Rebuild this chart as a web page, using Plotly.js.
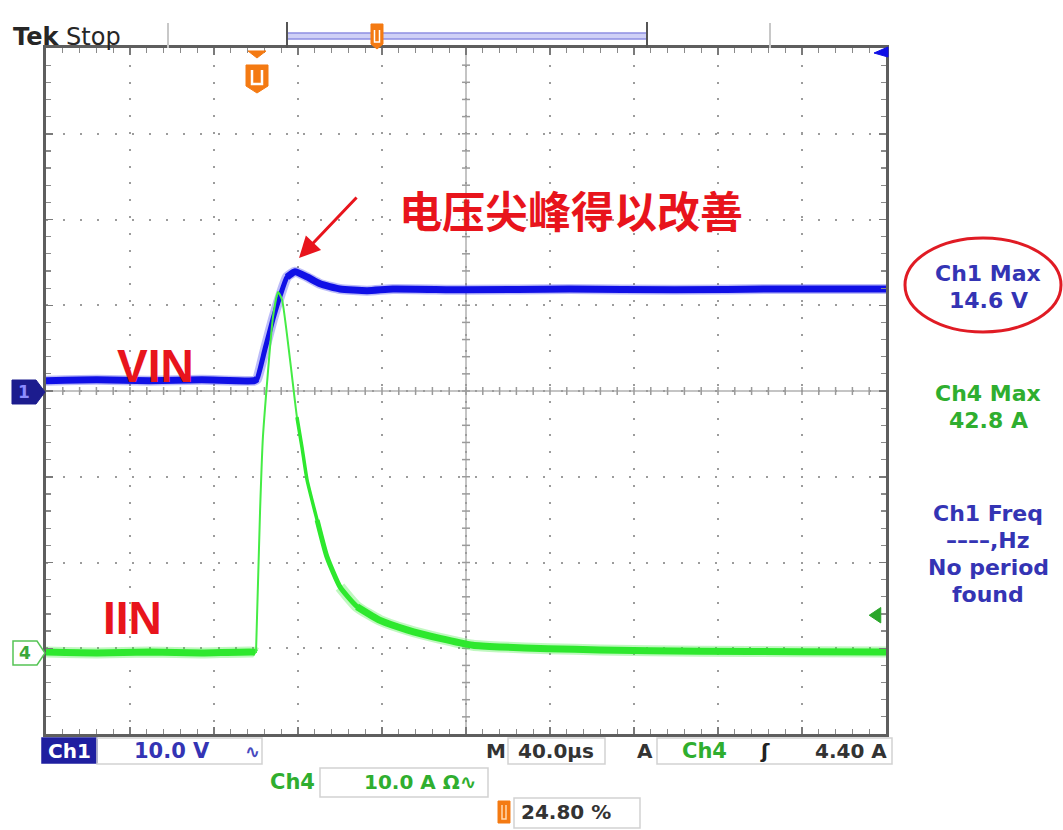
<!DOCTYPE html>
<html>
<head>
<meta charset="utf-8">
<script src="https://cdn.plot.ly/plotly-3.0.1.min.js"></script>
<style>
html,body{margin:0;padding:0;background:#ffffff;}
#chart{width:1063px;height:830px;}
</style>
</head>
<body>
<div id="chart"></div>
<script>
// ---------------- DATA (read from the scope capture) ----------------
// Ch1 = VIN (10.0 V/div), Ch4 = IIN (10.0 A/div), time base 40.0 us/div, trigger at 24.80 %
const ch1TimeUs = [-99.2, -75, -50, -25, 0, 1.3, 5.1, 8.9, 12.3, 15.6, 19.4, 25.1, 31.3, 40.8, 53.7, 66, 100, 150, 200, 250, 300.8];
const ch1Volts  = [1.2, 1.3, 1.2, 1.3, 1.2, 1.4, 4.9, 8.4, 11.1, 13.3, 13.9, 13.3, 12.5, 11.9, 11.7, 11.9, 11.8, 11.9, 11.8, 11.9, 11.9];

const ch4TimeUs = [-99.2, -75, -50, -25, 0, 0.8, 2.7, 4.1, 8.9, 11.3, 13.2, 17.0, 20.3, 22.7, 25.1, 29.9, 34.6, 40.8, 48.9, 59.9, 72.7, 88.4, 104.1, 117, 140, 164.6, 212, 260, 300.8];
const ch4Amps   = [0.1, 0, 0.1, 0, 0.1, 0, 16.3, 25.2, 39.2, 42.1, 41.2, 34.2, 27.5, 24.0, 20.2, 15.5, 11.2, 7.7, 5.4, 3.8, 2.7, 1.7, 0.9, 0.7, 0.5, 0.35, 0.2, 0.15, 0.1];

const ch4TriggerLevelA = 4.40;

// texts
const headerLabel = ['Tek', 'Stop'];
const seriesLabels = ['VIN', 'IIN'];
const calloutText = '电压尖峰得以改善';
const ch1MaxLines = ['Ch1 Max', '14.6 V'];
const ch4MaxLines = ['Ch4 Max', '42.8 A'];
const ch1FreqLines = ['Ch1 Freq', '––––,Hz', 'No period', 'found'];
const bottomTexts = {ch1: 'Ch1', ch1Scale: '10.0 V', time: '40.0µs', ch4: 'Ch4', ch4Scale: '10.0 A Ω∿', trigLevel: '4.40 A', trigPos: '24.80 %'};

// ---------------- GEOMETRY ----------------
const W = 1063, H = 830;
const L = 46, R = 886, T = 48, B = 734;
const P = x => (x - L) / (R - L);
const Q = y => (B - y) / (B - T);
function pth(pts, close) {
  return pts.map((p, i) => (i ? 'L' : 'M') + P(p[0]).toFixed(5) + ',' + Q(p[1]).toFixed(5)).join(' ') + (close ? ' Z' : '');
}

const BLUE = '#1010e6', GREEN = '#2ee82e';
const TXTBLUE = '#3434b4', TXTGREEN = '#2fae2f';
const RED = '#e8141c';
const MONO = 'DejaVu Sans';

function seg(xs, ys, i0, i1, color, width, axis, opacity) {
  return {
    type: 'scatter', mode: 'lines',
    x: xs.slice(i0, i1 + 1), y: ys.slice(i0, i1 + 1),
    yaxis: axis, opacity: opacity,
    line: {color: color, width: width, shape: 'spline', smoothing: 0.5},
    hoverinfo: 'skip', showlegend: false
  };
}
const n1 = ch1TimeUs.length - 1, n4 = ch4TimeUs.length - 1;
const traces = [
  // Ch4 halo + core
  seg(ch4TimeUs, ch4Amps, 0, 5, GREEN, 11, 'y2', 0.3),
  seg(ch4TimeUs, ch4Amps, 17, n4, GREEN, 11, 'y2', 0.3),
  seg(ch4TimeUs, ch4Amps, 0, 5, GREEN, 7, 'y2', 1),
  seg(ch4TimeUs, ch4Amps, 5, n4, '#45ec45', 2, 'y2', 1),
  seg(ch4TimeUs, ch4Amps, 12, n4, GREEN, 3.5, 'y2', 1),
  seg(ch4TimeUs, ch4Amps, 15, n4, GREEN, 5, 'y2', 1),
  seg(ch4TimeUs, ch4Amps, 18, n4, GREEN, 7, 'y2', 1),
  // Ch1 halo + core
  seg(ch1TimeUs, ch1Volts, 0, n1, BLUE, 10, 'y', 0.28),
  seg(ch1TimeUs, ch1Volts, 0, n1, BLUE, 5, 'y', 1),
  seg(ch1TimeUs, ch1Volts, 0, 5, BLUE, 7, 'y', 1),
  seg(ch1TimeUs, ch1Volts, 9, n1, BLUE, 7, 'y', 1)
];

// ---------------- SHAPES ----------------
const shapes = [];
// centre crosshair
shapes.push({type: 'line', xref: 'paper', yref: 'paper', x0: 0.5, x1: 0.5, y0: 0, y1: 1, line: {color: '#c4c4c4', width: 2}, layer: 'below'});
shapes.push({type: 'line', xref: 'paper', yref: 'paper', x0: 0, x1: 1, y0: 0.5, y1: 0.5, line: {color: '#c4c4c4', width: 2}, layer: 'below'});
const hx = 4 / (R - L), hy = 4 / (B - T);
for (let i = 1; i < 50; i++) {
  shapes.push({type: 'line', xref: 'paper', yref: 'paper', x0: i / 50, x1: i / 50, y0: 0.5 - hy, y1: 0.5 + hy, line: {color: '#9a9a9a', width: 1.5}, layer: 'below'});
}
for (let j = 1; j < 40; j++) {
  shapes.push({type: 'line', xref: 'paper', yref: 'paper', x0: 0.5 - hx, x1: 0.5 + hx, y0: j / 40, y1: j / 40, line: {color: '#9a9a9a', width: 1.5}, layer: 'below'});
}
// top record bar
shapes.push({type: 'line', xref: 'paper', yref: 'paper', x0: P(168), x1: P(168), y0: Q(23), y1: Q(48), line: {color: '#c8c8c8', width: 2}});
shapes.push({type: 'line', xref: 'paper', yref: 'paper', x0: P(770), x1: P(770), y0: Q(23), y1: Q(48), line: {color: '#c8c8c8', width: 2}});
shapes.push({type: 'rect', xref: 'paper', yref: 'paper', x0: P(287), x1: P(647), y0: Q(39), y1: Q(33), fillcolor: '#cfd0f6', line: {color: '#8e8ee2', width: 1.5}});
shapes.push({type: 'line', xref: 'paper', yref: 'paper', x0: P(287), x1: P(287), y0: Q(22), y1: Q(48), line: {color: '#555', width: 2}});
shapes.push({type: 'line', xref: 'paper', yref: 'paper', x0: P(647), x1: P(647), y0: Q(22), y1: Q(48), line: {color: '#555', width: 2}});
// orange markers
const ORANGE = '#f47a12';
shapes.push({type: 'path', xref: 'paper', yref: 'paper', path: pth([[371, 24], [383, 24], [383, 44], [377, 49], [371, 44]], true), fillcolor: ORANGE, line: {color: ORANGE, width: 1}});
shapes.push({type: 'path', xref: 'paper', yref: 'paper', path: pth([[374.5, 30], [374.5, 42], [379.5, 42], [379.5, 30]], false), line: {color: '#ffffff', width: 1.5}});
shapes.push({type: 'path', xref: 'paper', yref: 'paper', path: pth([[248, 51], [266, 51], [257, 58]], true), fillcolor: ORANGE, line: {color: ORANGE, width: 1}});
shapes.push({type: 'path', xref: 'paper', yref: 'paper', path: pth([[246, 65], [268, 65], [268, 86], [257, 93], [246, 86]], true), fillcolor: ORANGE, line: {color: ORANGE, width: 1}});
shapes.push({type: 'path', xref: 'paper', yref: 'paper', path: pth([[252, 70], [252, 84], [262, 84], [262, 70]], false), line: {color: '#ffffff', width: 2.5}});
shapes.push({type: 'path', xref: 'paper', yref: 'paper', path: pth([[498, 801], [510, 801], [510, 823], [498, 823]], true), fillcolor: ORANGE, line: {color: ORANGE, width: 1}});
shapes.push({type: 'path', xref: 'paper', yref: 'paper', path: pth([[502, 805], [502, 819], [506, 819], [506, 805]], false), line: {color: '#ffd9b0', width: 1.5}});
// channel ground markers
shapes.push({type: 'path', xref: 'paper', yref: 'paper', path: pth([[12, 380], [36, 380], [45, 392], [36, 404], [12, 404]], true), fillcolor: '#1c1c8e', line: {color: '#1c1c8e', width: 1}});
shapes.push({type: 'path', xref: 'paper', yref: 'paper', path: pth([[13, 641], [37, 641], [45, 653], [37, 665], [13, 665]], true), fillcolor: '#ffffff', line: {color: '#55c455', width: 1.5}});
// off-screen indicator (top-right) and Ch4 trigger level arrow
shapes.push({type: 'path', xref: 'paper', yref: 'paper', path: pth([[874, 53], [888, 47], [888, 57]], true), fillcolor: BLUE, line: {color: BLUE, width: 1}});
shapes.push({type: 'path', xref: 'x', yref: 'y2', path: 'M' + (300.8 - 8.0) + ',' + ch4TriggerLevelA + ' L' + (300.8 - 2.5) + ',' + (ch4TriggerLevelA + 0.9) + ' L' + (300.8 - 2.5) + ',' + (ch4TriggerLevelA - 0.9) + ' Z', fillcolor: '#2aa62a', line: {color: '#2aa62a', width: 1}});
// red ellipse
shapes.push({type: 'circle', xref: 'paper', yref: 'paper', x0: P(905), x1: P(1061), y0: Q(332), y1: Q(238), line: {color: '#e01b24', width: 3}});
// bottom readout boxes
function box(x0, y0, x1, y1, fill, lc) {
  shapes.push({type: 'rect', xref: 'paper', yref: 'paper', x0: P(x0), x1: P(x1), y0: Q(y1), y1: Q(y0), fillcolor: fill, line: {color: lc, width: 1.5}});
}
box(42, 738, 97, 763, '#1f1fa0', '#1f1fa0');
box(97, 738, 262, 764, 'rgba(255,255,255,0)', '#d2d2d2');
box(508, 738, 605, 764, 'rgba(255,255,255,0)', '#d2d2d2');
box(657, 738, 892, 764, 'rgba(255,255,255,0)', '#d2d2d2');
box(320, 768, 488, 797, 'rgba(255,255,255,0)', '#d2d2d2');
box(514, 798, 640, 828, 'rgba(255,255,255,0)', '#d2d2d2');

// ---------------- ANNOTATIONS ----------------
const ann = [];
function txt(text, x, y, size, color, anchor, family, extra) {
  const a = {xref: 'paper', yref: 'paper', x: P(x), y: Q(y), text: text, showarrow: false,
    xanchor: anchor || 'center', yanchor: 'middle',
    font: {family: family || MONO, size: size, color: color}};
  return Object.assign(a, extra || {});
}
ann.push(txt('<b>' + headerLabel[0] + '</b> ' + headerLabel[1], 11, 37, 24, '#262626', 'left'));
// right readouts
ann.push(txt('<b>' + ch1MaxLines[0] + '</b>', 988, 273, 22, TXTBLUE));
ann.push(txt('<b>' + ch1MaxLines[1] + '</b>', 988, 300, 22, TXTBLUE));
ann.push(txt('<b>' + ch4MaxLines[0] + '</b>', 988, 393, 22, TXTGREEN));
ann.push(txt('<b>' + ch4MaxLines[1] + '</b>', 988, 420, 22, TXTGREEN));
ch1FreqLines.forEach((s, i) => ann.push(txt('<b>' + s + '</b>', 988, 513 + i * 27, 22, TXTBLUE)));
// ground marker numbers
ann.push(txt('<b>1</b>', 24, 392, 17, '#8c8cff'));
ann.push(txt('<b>4</b>', 25, 653, 17, '#3aa83a'));
// bottom readouts
ann.push(txt('<b>' + bottomTexts.ch1 + '</b>', 69, 751, 20, '#ffffff'));
ann.push(txt('<b>' + bottomTexts.ch1Scale + '</b>', 172, 751, 21, TXTBLUE));
ann.push(txt('<b>∿</b>', 252, 751, 18, '#4a4ac0'));
ann.push(txt('<b>M</b>', 496, 751, 20, '#333'));
ann.push(txt('<b>' + bottomTexts.time + '</b>', 556, 751, 20, '#333'));
ann.push(txt('<b>A</b>', 645, 751, 20, '#333'));
ann.push(txt('<b>' + bottomTexts.ch4 + '</b>', 704, 751, 21, TXTGREEN));
ann.push(txt('<b>ʃ</b>', 765, 751, 20, '#222'));
ann.push(txt('<b>' + bottomTexts.trigLevel + '</b>', 889, 751, 20, '#333', 'right'));
ann.push(txt('<b>' + bottomTexts.ch4 + '</b>', 292, 782, 21, TXTGREEN));
ann.push(txt('<b>' + bottomTexts.ch4Scale + '</b>', 420, 782, 20, TXTGREEN));
ann.push(txt('<b>' + bottomTexts.trigPos + '</b>', 566, 812, 20, '#333'));
// red labels
ann.push(txt('<b>' + seriesLabels[0] + '</b>', 155, 366, 46, RED, 'center', 'Liberation Sans'));
ann.push(txt('<b>' + seriesLabels[1] + '</b>', 132, 618, 46, RED, 'center', 'Liberation Sans'));
ann.push(txt('<b>' + calloutText + '</b>', 571, 209, 43, RED, 'center', 'Noto Sans CJK SC'));
// red arrow
ann.push({xref: 'paper', yref: 'paper', x: P(299), y: Q(258), ax: 59, ay: -62, text: '', showarrow: true,
  arrowhead: 2, arrowsize: 1.4, arrowwidth: 3, arrowcolor: RED, standoff: 0});

// ---------------- LAYOUT ----------------
const axisCommon = {
  showline: true, linecolor: '#5e5e5e', linewidth: 3, mirror: 'ticks',
  ticks: 'inside', ticklen: 7, tickwidth: 1.5, tickcolor: '#7a7a7a',
  showticklabels: false, zeroline: false,
  showgrid: true, gridcolor: '#9c9c9c', gridwidth: 2,
  fixedrange: true
};
const layout = {
  width: W, height: H,
  margin: {l: L, r: W - R, t: T, b: H - B, pad: 0},
  paper_bgcolor: '#ffffff', plot_bgcolor: '#ffffff',
  showlegend: false,
  xaxis: Object.assign({}, axisCommon, {
    range: [-99.2, 300.8], tick0: -99.2, dtick: 40, griddash: '2px,14.8px',
    minor: {tick0: -99.2, dtick: 8, ticks: 'inside', ticklen: 5, tickwidth: 1.2, tickcolor: '#8a8a8a', showgrid: false}
  }),
  yaxis: Object.assign({}, axisCommon, {
    range: [-40, 40], tick0: 0, dtick: 10, griddash: '2px,15.15px',
    minor: {tick0: 0, dtick: 2, ticks: 'inside', ticklen: 5, tickwidth: 1.2, tickcolor: '#8a8a8a', showgrid: false}
  }),
  yaxis2: {overlaying: 'y', range: [-9.45, 70.55], visible: false, showgrid: false, zeroline: false, fixedrange: true},
  shapes: shapes,
  annotations: ann
};

Plotly.newPlot('chart', traces, layout, {staticPlot: true, displayModeBar: false});
</script>
</body>
</html>
